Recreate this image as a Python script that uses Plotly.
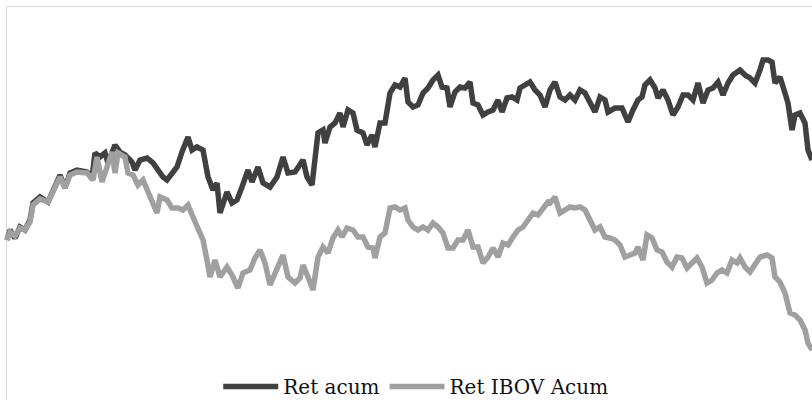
import plotly.graph_objects as go

# Day index and cumulative-return level (arbitrary index units)
dias_ret = [7, 10, 15, 20, 25, 30, 33, 40, 48, 53, 60, 65, 70, 77, 87, 92, 95, 100, 105, 108,
            115, 120, 125, 132, 135, 140, 147, 153, 163, 167, 172, 177, 182, 188, 192, 197, 203, 208, 213, 217,
            220, 227, 232, 237, 242, 248, 252, 258, 263, 270, 277, 283, 288, 295, 303, 307, 312, 318, 323, 325,
            330, 335, 340, 343, 348, 353, 357, 363, 367, 372, 375, 380, 385, 390, 395, 400, 405, 408, 413, 418,
            423, 428, 433, 438, 442, 447, 450, 455, 460, 465, 470, 473, 478, 483, 488, 493, 498, 502, 507, 512,
            517, 520, 525, 530, 535, 540, 545, 550, 555, 560, 565, 570, 575, 580, 585, 590, 595, 600, 605, 608,
            615, 622, 628, 633, 638, 642, 645, 650, 655, 658, 663, 668, 673, 678, 683, 688, 693, 698, 703, 708,
            713, 718, 723, 728, 733, 740, 745, 750, 755, 760, 763, 768, 772, 775, 780, 785, 788, 792, 795, 800,
            805, 808, 812]
ret_acum = [160, 170, 162, 173, 170, 180, 197, 203, 198, 210, 225, 212, 227, 230, 228, 222, 247, 243, 247, 237,
            255, 248, 245, 238, 230, 240, 242, 237, 223, 220, 227, 233, 248, 263, 250, 253, 250, 223, 210, 217,
            187, 208, 197, 200, 213, 230, 218, 233, 217, 213, 223, 243, 227, 228, 240, 223, 215, 267, 270, 257,
            273, 277, 287, 273, 290, 287, 270, 267, 255, 265, 253, 277, 277, 307, 315, 313, 322, 298, 293, 295,
            307, 312, 320, 325, 313, 312, 293, 308, 313, 312, 318, 297, 295, 285, 288, 290, 300, 288, 302, 303,
            300, 312, 315, 318, 310, 305, 293, 310, 318, 303, 300, 305, 300, 310, 307, 297, 288, 303, 300, 288,
            292, 292, 278, 290, 300, 303, 315, 320, 312, 302, 310, 300, 285, 293, 305, 305, 300, 317, 297, 310,
            312, 318, 305, 317, 325, 330, 325, 322, 317, 330, 340, 340, 338, 317, 323, 307, 297, 270, 285, 287,
            277, 250, 240]

dias_ibov = [7, 10, 15, 20, 25, 30, 33, 40, 48, 53, 60, 65, 70, 77, 87, 93, 97, 102, 107, 112,
             115, 118, 125, 128, 133, 138, 143, 148, 152, 157, 160, 167, 172, 178, 183, 188, 193, 198, 203, 207,
             210, 215, 220, 227, 232, 238, 243, 250, 255, 260, 265, 270, 277, 283, 288, 295, 300, 303, 308, 313,
             318, 323, 328, 333, 338, 342, 347, 353, 358, 363, 368, 373, 375, 380, 385, 390, 395, 400, 405, 408,
             413, 418, 423, 428, 433, 438, 443, 448, 453, 458, 463, 468, 473, 478, 483, 488, 493, 498, 503, 508,
             513, 518, 523, 528, 533, 538, 543, 548, 550, 555, 560, 565, 570, 575, 580, 585, 590, 595, 600, 605,
             610, 615, 620, 625, 630, 635, 638, 643, 647, 652, 657, 662, 667, 672, 677, 682, 687, 692, 697, 702,
             707, 712, 717, 722, 727, 732, 737, 740, 745, 750, 755, 760, 767, 772, 775, 780, 785, 790, 795, 800,
             805, 808, 812]
ret_ibov = [160, 168, 164, 172, 170, 178, 195, 201, 198, 208, 223, 212, 225, 228, 227, 220, 243, 218, 233, 248,
            227, 247, 243, 227, 225, 215, 220, 208, 198, 187, 203, 200, 192, 192, 190, 195, 183, 173, 160, 140,
            123, 140, 123, 133, 125, 112, 127, 130, 142, 150, 137, 115, 130, 145, 123, 117, 122, 135, 123, 110,
            143, 153, 147, 162, 170, 163, 172, 170, 163, 163, 153, 152, 142, 163, 167, 192, 193, 190, 192, 180,
            173, 170, 173, 170, 177, 173, 167, 152, 152, 160, 160, 170, 153, 153, 137, 143, 152, 143, 157, 155,
            163, 170, 173, 180, 187, 185, 192, 198, 197, 203, 187, 190, 193, 192, 193, 190, 180, 170, 173, 163,
            162, 160, 155, 143, 145, 147, 153, 140, 165, 162, 150, 148, 138, 133, 143, 142, 132, 137, 142, 133,
            117, 120, 127, 130, 127, 140, 137, 142, 133, 128, 135, 143, 145, 142, 123, 118, 107, 87, 85, 80,
            70, 57, 50]

nomes = ["Ret acum", "Ret IBOV Acum"]
cores = ["#404040", "#a0a0a0"]

fig = go.Figure()
fig.add_trace(go.Scatter(x=dias_ret, y=ret_acum, mode="lines", name=nomes[0],
                         line=dict(color=cores[0], width=5.5)))
fig.add_trace(go.Scatter(x=dias_ibov, y=ret_ibov, mode="lines", name=nomes[1],
                         line=dict(color=cores[1], width=5.5)))

fig.update_layout(
    width=812, height=414,
    margin=dict(l=0, r=0, t=0, b=14),
    paper_bgcolor="white", plot_bgcolor="white",
    xaxis=dict(range=[0, 812], visible=False, fixedrange=True),
    yaxis=dict(range=[0, 400], visible=False, fixedrange=True),
    showlegend=True,
    legend=dict(orientation="h", x=0.512, xanchor="center", y=0.034, yanchor="middle",
                font=dict(family="DejaVu Serif", size=20, color="#111111"),
                itemwidth=55, bgcolor="rgba(0,0,0,0)", tracegroupgap=0),
    shapes=[dict(type="rect", xref="paper", yref="paper",
                 x0=6.5 / 812, x1=1.05, y0=-0.05, y1=1 - 6.5 / 400,
                 line=dict(color="#d9d9d9", width=1), fillcolor="rgba(0,0,0,0)", layer="below")],
)

fig.write_html("out.html", config={"displayModeBar": False},
               post_script="document.body.style.margin='0';document.body.style.overflow='hidden';"
                           "document.documentElement.style.overflow='hidden';")
